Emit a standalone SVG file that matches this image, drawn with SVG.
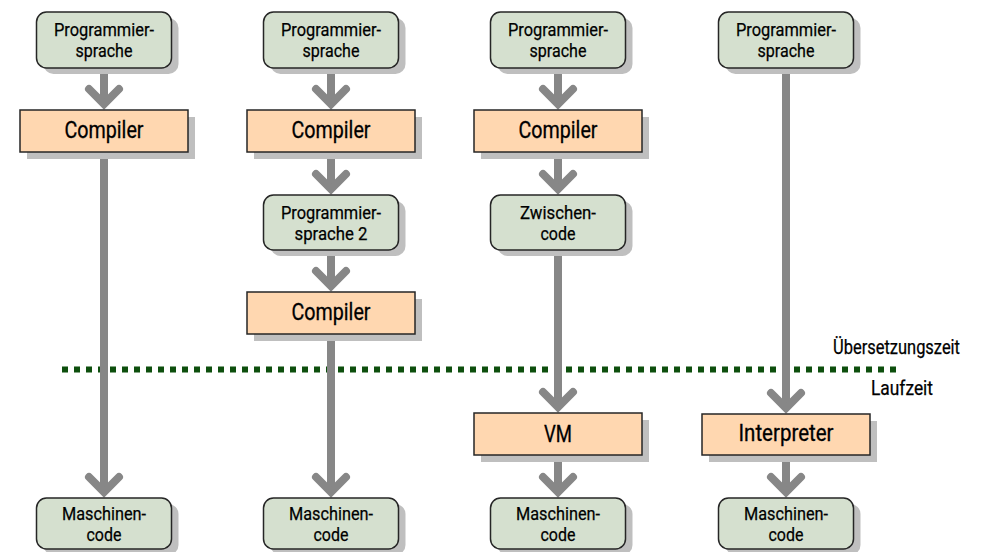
<svg xmlns="http://www.w3.org/2000/svg" width="991" height="552" viewBox="0 0 991 552">
<defs>
<style>
.bg{fill:#ffffff}
.sh{fill:#bfbfbf}
.g{fill:#d5e0cf;stroke:#262626;stroke-width:1.5}
.o{fill:#ffd7b0;stroke:#262626;stroke-width:1.5}
.t{font-family:Roboto,"Liberation Sans",sans-serif;font-size:19px;fill:#000;stroke:#000;stroke-width:0.25;text-anchor:middle}
.tb{font-family:Roboto,"Liberation Sans",sans-serif;font-size:23px;fill:#000;stroke:#000;stroke-width:0.3;text-anchor:middle}
.lbl{font-family:Roboto,"Liberation Sans",sans-serif;font-size:19.5px;fill:#000;stroke:#000;stroke-width:0.25;text-anchor:end}
.shaft{stroke:#878787;stroke-width:8;fill:none}
.head{stroke:#878787;stroke-width:8;fill:none;stroke-linecap:round;stroke-linejoin:miter}
.sep{stroke:#0d4f0d;stroke-width:6;stroke-dasharray:6 6;fill:none}
</style>
</defs>
<rect class="bg" x="0" y="0" width="991" height="552"/>

<g id="sep">
<line class="sep" x1="62" y1="369.5" x2="902" y2="369.5"/>
<text class="lbl" x="960" y="354" textLength="127" lengthAdjust="spacingAndGlyphs">Übersetzungszeit</text>
<text class="lbl" x="933" y="395" textLength="62" lengthAdjust="spacingAndGlyphs">Laufzeit</text>
</g>

<g id="connectors">
<!-- column 1 -->
<line class="shaft" x1="104" y1="68" x2="104" y2="105"/>
<path class="head" d="M89,89 L104,104 L119,89"/>
<line class="shaft" x1="104" y1="152" x2="104" y2="493"/>
<path class="head" d="M89,477 L104,492 L119,477"/>
<!-- column 2 -->
<line class="shaft" x1="331" y1="68" x2="331" y2="105"/>
<path class="head" d="M316,89 L331,104 L346,89"/>
<line class="shaft" x1="331" y1="152" x2="331" y2="190"/>
<path class="head" d="M316,174 L331,189 L346,174"/>
<line class="shaft" x1="331" y1="250" x2="331" y2="287"/>
<path class="head" d="M316,271 L331,286 L346,271"/>
<line class="shaft" x1="331" y1="334" x2="331" y2="493"/>
<path class="head" d="M316,477 L331,492 L346,477"/>
<!-- column 3 -->
<line class="shaft" x1="558" y1="68" x2="558" y2="105"/>
<path class="head" d="M543,89 L558,104 L573,89"/>
<line class="shaft" x1="558" y1="152" x2="558" y2="190"/>
<path class="head" d="M543,174 L558,189 L573,174"/>
<line class="shaft" x1="558" y1="250" x2="558" y2="408"/>
<path class="head" d="M543,392 L558,407 L573,392"/>
<line class="shaft" x1="558" y1="455" x2="558" y2="493"/>
<path class="head" d="M543,477 L558,492 L573,477"/>
<!-- column 4 -->
<line class="shaft" x1="786" y1="68" x2="786" y2="409"/>
<path class="head" d="M771,393 L786,408 L801,393"/>
<line class="shaft" x1="786" y1="455" x2="786" y2="493"/>
<path class="head" d="M771,477 L786,492 L801,477"/>
</g>

<!-- column 1 nodes -->
<g id="ps1">
<rect class="sh" x="43.5" y="18" width="135" height="56" rx="10"/>
<rect class="g" x="36.5" y="12" width="135" height="56" rx="10"/>
<text class="t" x="104" y="36" textLength="100" lengthAdjust="spacingAndGlyphs">Programmier-</text>
<text class="t" x="104" y="57" textLength="57" lengthAdjust="spacingAndGlyphs">sprache</text>
</g>
<g id="comp1">
<rect class="sh" x="27" y="117" width="168" height="42"/>
<rect class="o" x="20" y="110" width="168" height="42"/>
<text class="tb" x="104" y="138" textLength="79" lengthAdjust="spacingAndGlyphs">Compiler</text>
</g>
<g id="mc1">
<rect class="sh" x="43.5" y="504" width="135" height="51" rx="10"/>
<rect class="g" x="36.5" y="498" width="135" height="51" rx="10"/>
<text class="t" x="104" y="520" textLength="84" lengthAdjust="spacingAndGlyphs">Maschinen-</text>
<text class="t" x="104" y="541" textLength="35" lengthAdjust="spacingAndGlyphs">code</text>
</g>

<!-- column 2 nodes -->
<g id="ps2">
<rect class="sh" x="270.5" y="18" width="135" height="56" rx="10"/>
<rect class="g" x="263.5" y="12" width="135" height="56" rx="10"/>
<text class="t" x="331" y="36" textLength="100" lengthAdjust="spacingAndGlyphs">Programmier-</text>
<text class="t" x="331" y="57" textLength="57" lengthAdjust="spacingAndGlyphs">sprache</text>
</g>
<g id="comp2a">
<rect class="sh" x="254" y="117" width="168" height="42"/>
<rect class="o" x="247" y="110" width="168" height="42"/>
<text class="tb" x="331" y="138" textLength="79" lengthAdjust="spacingAndGlyphs">Compiler</text>
</g>
<g id="ps2b">
<rect class="sh" x="270.5" y="201" width="135" height="55" rx="10"/>
<rect class="g" x="263.5" y="195" width="135" height="55" rx="10"/>
<text class="t" x="331" y="219" textLength="100" lengthAdjust="spacingAndGlyphs">Programmier-</text>
<text class="t" x="331" y="240" textLength="73" lengthAdjust="spacingAndGlyphs">sprache 2</text>
</g>
<g id="comp2b">
<rect class="sh" x="254" y="299" width="168" height="42"/>
<rect class="o" x="247" y="292" width="168" height="42"/>
<text class="tb" x="331" y="320" textLength="79" lengthAdjust="spacingAndGlyphs">Compiler</text>
</g>
<g id="mc2">
<rect class="sh" x="270.5" y="504" width="135" height="51" rx="10"/>
<rect class="g" x="263.5" y="498" width="135" height="51" rx="10"/>
<text class="t" x="331" y="520" textLength="84" lengthAdjust="spacingAndGlyphs">Maschinen-</text>
<text class="t" x="331" y="541" textLength="35" lengthAdjust="spacingAndGlyphs">code</text>
</g>

<!-- column 3 nodes -->
<g id="ps3">
<rect class="sh" x="497.5" y="18" width="135" height="56" rx="10"/>
<rect class="g" x="490.5" y="12" width="135" height="56" rx="10"/>
<text class="t" x="558" y="36" textLength="100" lengthAdjust="spacingAndGlyphs">Programmier-</text>
<text class="t" x="558" y="57" textLength="57" lengthAdjust="spacingAndGlyphs">sprache</text>
</g>
<g id="comp3">
<rect class="sh" x="481" y="117" width="168" height="42"/>
<rect class="o" x="474" y="110" width="168" height="42"/>
<text class="tb" x="558" y="138" textLength="79" lengthAdjust="spacingAndGlyphs">Compiler</text>
</g>
<g id="zc3">
<rect class="sh" x="497.5" y="201" width="135" height="55" rx="10"/>
<rect class="g" x="490.5" y="195" width="135" height="55" rx="10"/>
<text class="t" x="558" y="219" textLength="76" lengthAdjust="spacingAndGlyphs">Zwischen-</text>
<text class="t" x="558" y="240" textLength="35" lengthAdjust="spacingAndGlyphs">code</text>
</g>
<g id="vm3">
<rect class="sh" x="481" y="420" width="168" height="42"/>
<rect class="o" x="474" y="413" width="168" height="42"/>
<text class="tb" x="558" y="442" textLength="28" lengthAdjust="spacingAndGlyphs">VM</text>
</g>
<g id="mc3">
<rect class="sh" x="497.5" y="504" width="135" height="51" rx="10"/>
<rect class="g" x="490.5" y="498" width="135" height="51" rx="10"/>
<text class="t" x="558" y="520" textLength="84" lengthAdjust="spacingAndGlyphs">Maschinen-</text>
<text class="t" x="558" y="541" textLength="35" lengthAdjust="spacingAndGlyphs">code</text>
</g>

<!-- column 4 nodes -->
<g id="ps4">
<rect class="sh" x="725.5" y="18" width="135" height="56" rx="10"/>
<rect class="g" x="718.5" y="12" width="135" height="56" rx="10"/>
<text class="t" x="786" y="36" textLength="100" lengthAdjust="spacingAndGlyphs">Programmier-</text>
<text class="t" x="786" y="57" textLength="57" lengthAdjust="spacingAndGlyphs">sprache</text>
</g>
<g id="int4">
<rect class="sh" x="709" y="421" width="168" height="41"/>
<rect class="o" x="702" y="414" width="168" height="41"/>
<text class="tb" x="786" y="441" textLength="95" lengthAdjust="spacingAndGlyphs">Interpreter</text>
</g>
<g id="mc4">
<rect class="sh" x="725.5" y="504" width="135" height="51" rx="10"/>
<rect class="g" x="718.5" y="498" width="135" height="51" rx="10"/>
<text class="t" x="786" y="520" textLength="84" lengthAdjust="spacingAndGlyphs">Maschinen-</text>
<text class="t" x="786" y="541" textLength="35" lengthAdjust="spacingAndGlyphs">code</text>
</g>
</svg>
